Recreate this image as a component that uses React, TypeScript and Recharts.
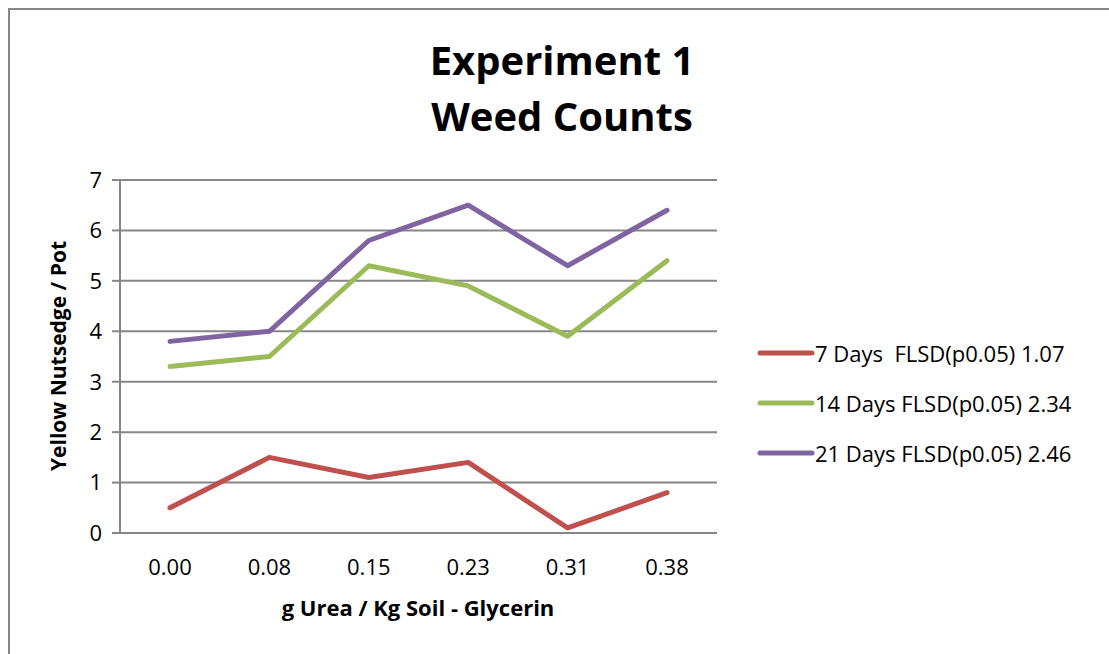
import { LineChart, Line, XAxis, YAxis, CartesianGrid } from 'recharts';

const doses = ['0.00', '0.08', '0.15', '0.23', '0.31', '0.38'];
const days7 = [0.5, 1.5, 1.1, 1.4, 0.1, 0.8];
const days14 = [3.3, 3.5, 5.3, 4.9, 3.9, 5.4];
const days21 = [3.8, 4.0, 5.8, 6.5, 5.3, 6.4];
const yTicks = [0, 1, 2, 3, 4, 5, 6, 7];

const seriesNames = [
  '7 Days  FLSD(p0.05) 1.07',
  '14 Days FLSD(p0.05) 2.34',
  '21 Days FLSD(p0.05) 2.46'
];
const seriesKeys = ['d7', 'd14', 'd21'];
const seriesColors = ['#C0504D', '#9BBB59', '#8064A2'];

const data = doses.map((d, i) => ({
  dose: d,
  d7: days7[i],
  d14: days14[i],
  d21: days21[i]
}));

const font = '"Open Sans", Lato, sans-serif';
const grey = '#868686';

export default function App() {
  return (
    <div
      style={{
        position: 'fixed',
        left: 8,
        top: 8,
        width: 1101,
        height: 646,
        boxSizing: 'border-box',
        borderTop: `2px solid ${grey}`,
        borderLeft: `2px solid ${grey}`,
        overflow: 'hidden',
        background: '#fff'
      }}
    >
      <div
        style={{
          position: 'absolute',
          left: 352,
          width: 400,
          top: 22,
          textAlign: 'center',
          fontFamily: font,
          fontWeight: 700,
          fontSize: 40,
          lineHeight: '56px',
          color: '#000'
        }}
      >
        Experiment 1
        <br />
        Weed Counts
      </div>

      <div
        style={{
          position: 'absolute',
          left: 48,
          top: 346,
          transform: 'translate(-50%, -50%) rotate(-90deg)',
          whiteSpace: 'nowrap',
          fontFamily: font,
          fontWeight: 700,
          fontSize: 21,
          color: '#000'
        }}
      >
        Yellow Nutsedge / Pot
      </div>

      <div
        style={{
          position: 'absolute',
          left: 408,
          top: 597,
          transform: 'translate(-50%, -50%)',
          whiteSpace: 'nowrap',
          fontFamily: font,
          fontWeight: 700,
          fontSize: 22,
          color: '#000'
        }}
      >
        g Urea / Kg Soil - Glycerin
      </div>

      <div
        style={{
          position: 'absolute',
          left: 747,
          top: 318,
          fontFamily: font,
          fontSize: 22,
          color: '#000'
        }}
      >
        {seriesNames.map((name, i) => (
          <div key={name} style={{ display: 'flex', alignItems: 'center', height: 50 }}>
            <svg width={58} height={10}>
              <line x1={3} y1={5} x2={55} y2={5} stroke={seriesColors[i]} strokeWidth={5} strokeLinecap="round" />
            </svg>
            <span style={{ whiteSpace: 'pre' }}>{name}</span>
          </div>
        ))}
      </div>

      <LineChart
        width={1000}
        height={644}
        data={data}
        margin={{ top: 170, right: 293, bottom: 61, left: 0 }}
      >
        <CartesianGrid vertical={false} stroke={grey} strokeWidth={2} />
        <XAxis
          dataKey="dose"
          padding={{ left: 50, right: 50 }}
          axisLine={{ stroke: grey, strokeWidth: 2 }}
          tickLine={false}
          tickSize={0}
          tickMargin={26}
          height={60}
          interval={0}
          tick={{ fill: '#000', fontSize: 22, fontFamily: font }}
        />
        <YAxis
          domain={[0, 7]}
          ticks={yTicks}
          interval={0}
          width={110}
          axisLine={{ stroke: grey, strokeWidth: 2 }}
          tickLine={{ stroke: grey, strokeWidth: 2 }}
          tickSize={8}
          tickMargin={10}
          tick={{ fill: '#000', fontSize: 22, fontFamily: font }}
        />
        {seriesKeys.map((k, i) => (
          <Line
            key={k}
            name={seriesNames[i]}
            dataKey={k}
            stroke={seriesColors[i]}
            strokeWidth={5}
            dot={false}
            activeDot={false}
            strokeLinecap="round"
            strokeLinejoin="round"
            isAnimationActive={false}
          />
        ))}
      </LineChart>
    </div>
  );
}
